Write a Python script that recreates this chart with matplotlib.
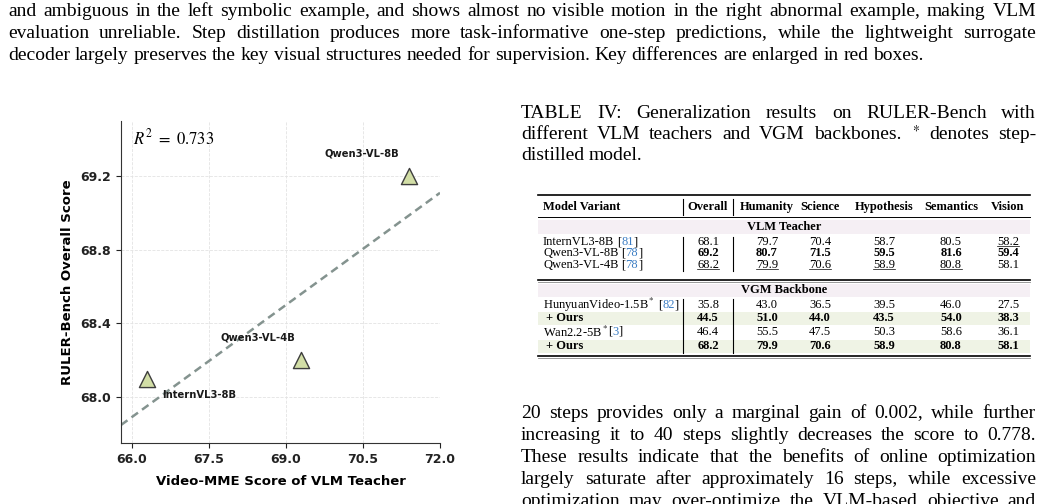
import matplotlib
matplotlib.use("Agg")
import matplotlib.pyplot as plt
import numpy as np
from matplotlib.lines import Line2D
from matplotlib.patches import Rectangle

W, H = 1044, 504

# scatter: Video-MME score of the VLM teacher vs RULER-Bench overall score
teachers = ["InternVL3-8B", "Qwen3-VL-4B", "Qwen3-VL-8B"]
video_mme = [66.3, 69.3, 71.4]
ruler_overall = [68.1, 68.2, 69.2]
x_ticks = [66.0, 67.5, 69.0, 70.5, 72.0]
y_ticks = [68.0, 68.4, 68.8, 69.2]

# table IV
table_cols = ["Overall", "Humanity", "Science", "Hypothesis", "Semantics", "Vision"]
teacher_rows = ["InternVL3-8B", "Qwen3-VL-8B", "Qwen3-VL-4B"]
teacher_refs = ["81", "78", "78"]
teacher_vals = [
    [68.1, 79.7, 70.4, 58.7, 80.5, 58.2],
    [69.2, 80.7, 71.5, 59.5, 81.6, 59.4],
    [68.2, 79.9, 70.6, 58.9, 80.8, 58.1],
]
backbone_rows = ["HunyuanVideo-1.5B$^*$", "+ Ours", "Wan2.2-5B$^*$", "+ Ours"]
backbone_refs = ["82", "", "3", ""]
backbone_vals = [
    [35.8, 43.0, 36.5, 39.5, 46.0, 27.5],
    [44.5, 51.0, 44.0, 43.5, 54.0, 38.3],
    [46.4, 55.5, 47.5, 50.3, 58.6, 36.1],
    [68.2, 79.9, 70.6, 58.9, 80.8, 58.1],
]

# running text of the page
caption_top = [
    "and ambiguous in the left symbolic example, and shows almost no visible motion in the right abnormal example, making VLM",
    "evaluation unreliable. Step distillation produces more task-informative one-step predictions, while the lightweight surrogate",
    "decoder largely preserves the key visual structures needed for supervision. Key differences are enlarged in red boxes.",
]
table_caption = [
    "TABLE IV: Generalization results on RULER-Bench with",
    "different VLM teachers and VGM backbones. $^*$ denotes step-",
    "distilled model.",
]
body_right = [
    "20 steps provides only a marginal gain of 0.002, while further",
    "increasing it to 40 steps slightly decreases the score to 0.778.",
    "These results indicate that the benefits of online optimization",
    "largely saturate after approximately 16 steps, while excessive",
    "optimization may over-optimize the VLM-based objective and",
]

plt.rcParams["mathtext.fontset"] = "stix"
fig = plt.figure(figsize=(W / 100, H / 100), dpi=100)
renderer = fig.canvas.get_renderer()
SERIF = "Liberation Serif"


def fx(px):
    return px / W


def fy(py):
    return 1 - py / H


def text_w(s, **kw):
    t = fig.text(0, 0, s, **kw)
    w = t.get_window_extent(renderer).width
    t.remove()
    return w


def space_w(**kw):
    return text_w("n n", **kw) - text_w("nn", **kw)


def put_line(s, x0, x1, y, justify=True, **kw):
    words = s.split()
    widths = [text_w(w, **kw) for w in words]
    if justify and len(words) > 1:
        gap = (x1 - x0 - sum(widths)) / (len(words) - 1)
    else:
        gap = space_w(**kw)
    x = x0
    for w, wd in zip(words, widths):
        fig.text(fx(x), fy(y), w, ha="left", va="center", **kw)
        x += wd + gap


def put_runs(x, y, runs, ha="left", **kw):
    widths = []
    for s, extra in runs:
        widths.append(space_w(**kw, **extra) if s == " " else text_w(s, **kw, **extra))
    if ha == "center":
        x -= sum(widths) / 2
    for (s, extra), w in zip(runs, widths):
        if s != " ":
            fig.text(fx(x), fy(y), s, ha="left", va="center", **kw, **extra)
        x += w
    return sum(widths)


def hline(x0, x1, y, lw=0.8, color="black"):
    fig.add_artist(Line2D([fx(x0), fx(x1)], [fy(y), fy(y)], transform=fig.transFigure,
                          color=color, lw=lw))


def vline(x, y0, y1, lw=0.8, color="black"):
    fig.add_artist(Line2D([fx(x), fx(x)], [fy(y0), fy(y1)], transform=fig.transFigure,
                          color=color, lw=lw))


def band(x0, x1, y0, y1, color):
    fig.add_artist(Rectangle((fx(x0), fy(y1)), (x1 - x0) / W, (y1 - y0) / H,
                             transform=fig.transFigure, facecolor=color, edgecolor="none",
                             zorder=0))


# ---- page text ----
para = dict(family=SERIF, fontsize=14)
for i, (line, y) in enumerate(zip(caption_top, [11, 33, 55])):
    put_line(line, 8, 1036, y, justify=i < len(caption_top) - 1, **para)
for i, (line, y) in enumerate(zip(table_caption, [113, 135, 156])):
    put_line(line, 521, 1036, y, justify=i < len(table_caption) - 1, **para)
for line, y in zip(body_right, [413, 435, 457, 479, 501]):
    put_line(line, 521, 1036, y, justify=True, **para)

# ---- table ----
tab = dict(family=SERIF, fontsize=9)
tx0, tx1 = 538, 1030
col_x = [708, 767, 820, 884, 951, 1008]
bar_x = [683, 733]
name_x = 543
cite_blue = "#3b7dc4"
pink = "#f5eff4"
green = "#eff3e5"

hline(tx0, tx1, 195, lw=1.2)
fig.text(fx(name_x), fy(207), "Model Variant", ha="left", va="center", weight="bold", **tab)
for c, x in zip(table_cols, col_x):
    fig.text(fx(x), fy(207), c, ha="center", va="center", weight="bold", **tab)
for bx in bar_x:
    vline(bx, 199, 215)
hline(tx0, tx1, 216.5, lw=0.7)

band(tx0, tx1, 220, 234, pink)
fig.text(fx((tx0 + tx1) / 2), fy(227), "VLM Teacher", ha="center", va="center", weight="bold", **tab)
teacher_y = [242, 253.5, 265]
vals = np.array(teacher_vals)
for name, ref, row, y in zip(teacher_rows, teacher_refs, teacher_vals, teacher_y):
    put_runs(name_x, y, [(name, {}), (" ", {}), ("[", {}), (ref, {"color": cite_blue}), ("]", {})], **tab)
    for j, (v, x) in enumerate(zip(row, col_x)):
        order = sorted(vals[:, j], reverse=True)
        bold = v == order[0]
        s = f"{v:.1f}"
        fig.text(fx(x), fy(y), s, ha="center", va="center", weight="bold" if bold else "normal", **tab)
        if v == order[1]:
            w = text_w(s, **tab)
            hline(x - w / 2, x + w / 2, y + 4.0, lw=0.5)
for bx in bar_x:
    vline(bx, 237, 271)
hline(tx0, tx1, 279.5, lw=1.2)
hline(tx0, tx1, 281.5, lw=0.6, color="#888888")

band(tx0, tx1, 284, 297, pink)
fig.text(fx((tx0 + tx1) / 2), fy(290), "VGM Backbone", ha="center", va="center", weight="bold", **tab)
backbone_y = [305, 318, 332, 346]
for name, ref, row, y in zip(backbone_rows, backbone_refs, backbone_vals, backbone_y):
    ours = ref == ""
    if ours:
        band(tx0, tx1, y - 6.5, y + 6.5, green)
        fig.text(fx(name_x + 3), fy(y), name, ha="left", va="center", weight="bold", **tab)
    else:
        runs = [(name, {})]
        if ref == "82":
            runs.append((" ", {}))
        runs += [("[", {}), (ref, {"color": cite_blue}), ("]", {})]
        put_runs(name_x, y, runs, **tab)
    for v, x in zip(row, col_x):
        fig.text(fx(x), fy(y), f"{v:.1f}", ha="center", va="center",
                 weight="bold" if ours else "normal", **tab)
for bx in bar_x:
    vline(bx, 298.5, 353)
hline(tx0, tx1, 355.5, lw=1.2)
hline(tx0, tx1, 357.5, lw=0.6, color="#888888")

# ---- scatter plot ----
ax = fig.add_axes([121 / W, 1 - 443 / H, (440 - 121) / W, (443 - 121) / H])
ax.scatter(video_mme, ruler_overall, marker="^", s=135, facecolor="#d2dea6",
           edgecolor="#3d3d3d", linewidth=1, zorder=3)
slope, icpt = np.polyfit(video_mme, ruler_overall, 1)
r2 = np.corrcoef(video_mme, ruler_overall)[0, 1] ** 2
ax.set_xlim(65.79, 72.0)
ax.set_ylim(67.75, 69.5)
xs = np.array(ax.get_xlim())
ax.plot(xs, slope * xs + icpt, ls=(0, (3.2, 2)), color="#84938f", lw=1.8, zorder=2)

offsets = {"InternVL3-8B": (11, -12, "left"), "Qwen3-VL-4B": (-31, 16.5, "center"),
           "Qwen3-VL-8B": (-34, 16, "center")}
for name, x, y in zip(teachers, video_mme, ruler_overall):
    dx, dy, ha = offsets[name]
    ax.annotate(name, (x, y), xytext=(dx, dy), textcoords="offset points", ha=ha,
                va="center", fontsize=7.2, fontweight="bold", color="#1a1a1a")

ax.text(0.038, 0.947, f"$R^2\\ =\\ {r2:.3f}$", transform=ax.transAxes, fontsize=12,
        ha="left", va="center")

ax.set_xticks(x_ticks)
ax.set_yticks(y_ticks)
ax.set_xticklabels([f"{t:.1f}" for t in x_ticks])
ax.set_yticklabels([f"{t:.1f}" for t in y_ticks])
ax.tick_params(labelsize=9, colors="#222222")
for lab in ax.get_xticklabels() + ax.get_yticklabels():
    lab.set_fontweight("bold")
ax.grid(True, ls="--", lw=0.6, color="#e3e3e3")
ax.set_axisbelow(True)
for side in ["top", "right"]:
    ax.spines[side].set_visible(False)
for side in ["left", "bottom"]:
    ax.spines[side].set_color("#333333")
ax.set_xlabel("Video-MME Score of VLM Teacher", fontsize=9.5, fontweight="bold", labelpad=7)
ax.set_ylabel("RULER-Bench Overall Score", fontsize=9.5, fontweight="bold", labelpad=5)

fig.savefig("out.png", dpi=100)
